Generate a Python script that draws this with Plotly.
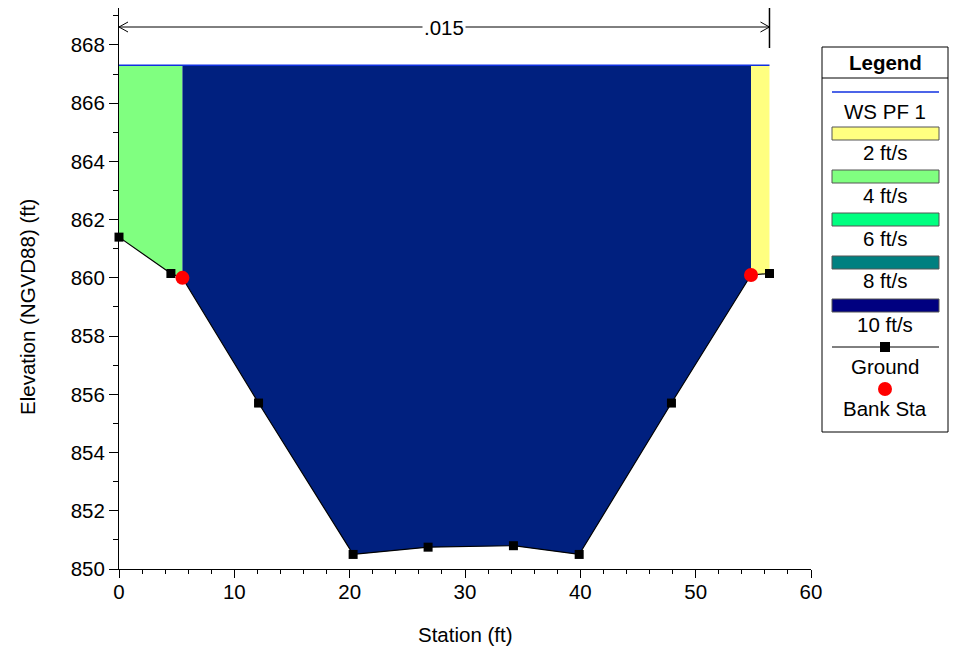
import numpy as np
import plotly.graph_objects as go

# ---------------- data ----------------
ground_sta = [0.0, 4.5, 5.5, 12.1, 20.3, 26.8, 34.2, 39.9, 47.9, 54.8, 56.4]
ground_elev = [861.4, 860.15, 860.0, 855.7, 850.5, 850.75, 850.8, 850.5, 855.7, 860.1, 860.15]
bank_sta = [5.5, 54.8]
bank_elev = [860.0, 860.1]
ws_elev = 867.3
n_value_label = ".015"
n_value_range = [0.0, 56.4]
# velocity zones: (start station, end station, legend label)
zone_start = [0.0, 5.5, 54.8]
zone_end = [5.5, 54.8, 56.4]
zone_label = ["4 ft/s", "10 ft/s", "2 ft/s"]
legend_vel_labels = ["2 ft/s", "4 ft/s", "6 ft/s", "8 ft/s", "10 ft/s"]
legend_vel_colors = ["#FFFF80", "#80FF80", "#00FF80", "#008080", "#000080"]
zone_colors = {"2 ft/s": "#FFFF80", "4 ft/s": "#80FF80", "10 ft/s": "#00207F"}

x_range = [0, 60]
y_range = [850, 869.27]

# page has an 8px body margin; layout below is in screen pixels
OFF = 8
W, H = 965 - OFF, 649 - OFF
PL, PR, PT, PB = 119, 811, 8, 569          # plot area on screen
ML, MT = PL - OFF, PT - OFF
MR, MB = W - (PR - OFF), H - (PB - OFF)
PW, PH = PR - PL, PB - PT

FONT = "Liberation Sans, Arial, sans-serif"
FS = 20.5

fig = go.Figure()

gs = np.array(ground_sta)
ge = np.array(ground_elev)

# velocity fill polygons
for s, e, lab in zip(zone_start, zone_end, zone_label):
    inner = gs[(gs > s) & (gs < e)]
    xs = np.concatenate([[s], inner, [e]])
    ys = np.interp(xs, gs, ge)
    px = list(xs) + [e, s, s]
    py = list(ys) + [ws_elev, ws_elev, ys[0]]
    fig.add_trace(go.Scatter(x=px, y=py, mode="lines", fill="toself",
                             fillcolor=zone_colors[lab], line=dict(width=0),
                             hoverinfo="skip", showlegend=False))

# water surface
fig.add_trace(go.Scatter(x=[gs[0], gs[-1]], y=[ws_elev, ws_elev], mode="lines",
                         line=dict(color="#1030E0", width=1.5), showlegend=False))

# ground
fig.add_trace(go.Scatter(x=ground_sta, y=ground_elev, mode="lines+markers",
                         line=dict(color="black", width=1.2),
                         marker=dict(symbol="square", size=9, color="black"),
                         cliponaxis=False, showlegend=False))
# bank stations
fig.add_trace(go.Scatter(x=bank_sta, y=bank_elev, mode="markers",
                         marker=dict(symbol="circle", size=14, color="#FF0000"),
                         cliponaxis=False, showlegend=False))

# ---- helpers: screen pixel -> data / paper ----
def py2y(p):
    return y_range[0] + (PB - p) / PH * (y_range[1] - y_range[0])

def pxp(p):
    return (p - PL) / PW

def pyp(p):
    return (PB - p) / PH

# ---- n-value dimension line ----
dim_y = py2y(27)
dx_unit = (x_range[1] - x_range[0]) / PW
dy_unit = (y_range[1] - y_range[0]) / PH
x0n, x1n = n_value_range
fig.add_shape(type="line", x0=x0n, x1=x1n, y0=dim_y, y1=dim_y,
              line=dict(color="black", width=1))
for tip, sgn in ((x0n, 1), (x1n, -1)):
    for d in (1, -1):
        fig.add_shape(type="line", x0=tip, y0=dim_y,
                      x1=tip + sgn * 9 * dx_unit, y1=dim_y + d * 5 * dy_unit,
                      line=dict(color="black", width=1))
fig.add_shape(type="line", xref="x", yref="paper", x0=x1n, x1=x1n,
              y0=pyp(48), y1=pyp(5), line=dict(color="black", width=1.5))
fig.add_annotation(x=(x0n + x1n) / 2, y=dim_y, text=n_value_label, showarrow=False,
                   bgcolor="white", font=dict(size=FS, color="black", family=FONT),
                   borderpad=1)

# ---- custom legend ----
def prect(x0, y0, x1, y1, **kw):
    fig.add_shape(type="rect", xref="paper", yref="paper",
                  x0=pxp(x0), x1=pxp(x1), y0=pyp(y1), y1=pyp(y0), **kw)

def pline(x0, y0, x1, y1, color="black", width=1):
    fig.add_shape(type="line", xref="paper", yref="paper",
                  x0=pxp(x0), x1=pxp(x1), y0=pyp(y0), y1=pyp(y1),
                  line=dict(color=color, width=width))

def ptext(xc, yc, txt, bold=False, angle=0):
    fig.add_annotation(xref="paper", yref="paper", x=pxp(xc), y=pyp(yc),
                       text=f"<b>{txt}</b>" if bold else txt, showarrow=False,
                       font=dict(size=FS, color="black", family=FONT),
                       xanchor="center", yanchor="middle", textangle=angle)

LX0, LX1, LY0, LY1 = 822, 948, 47, 432
cx = (LX0 + LX1) / 2
prect(LX0, LY0, LX1, LY1, line=dict(color="black", width=1), fillcolor="white", layer="below")
ptext(cx, 62, "Legend", bold=True)
pline(LX0, 78, LX1, 78)
pline(832, 92, 939, 92, color="#1030E0", width=1.5)
ptext(cx, 111, "WS PF 1")
for i, (lab, col) in enumerate(zip(legend_vel_labels, legend_vel_colors)):
    top = 127 + 43 * i
    prect(832, top, 939, top + 13, line=dict(color="#555555", width=1), fillcolor=col)
    ptext(cx, top + 25, lab)
pline(832, 347, 939, 347)
prect(880, 342, 890, 352, line=dict(color="black", width=0), fillcolor="black")
ptext(cx, 366, "Ground")
fig.add_shape(type="circle", xref="paper", yref="paper",
              x0=pxp(878), x1=pxp(892), y0=pyp(396), y1=pyp(382),
              fillcolor="#FF0000", line=dict(width=0))
ptext(cx, 408, "Bank Sta")

# axis titles
ptext((PL + PR) / 2, 634, "Station (ft)")
ptext(27, 307, "Elevation (NGVD88) (ft)", angle=-90)

fig.update_layout(
    width=W, height=H,
    margin=dict(l=ML, r=MR, t=MT, b=MB, pad=0),
    paper_bgcolor="white", plot_bgcolor="white",
    font=dict(family=FONT, size=FS, color="black"),
    showlegend=False,
    xaxis=dict(range=x_range, dtick=10, tick0=0, ticks="outside", ticklen=8,
               tickcolor="black", showline=True, linecolor="black", linewidth=1,
               showgrid=False, zeroline=False, automargin=False,
               ticklabelstandoff=-4,
               minor=dict(dtick=2, ticks="outside", ticklen=4, tickcolor="black"),
               tickfont=dict(size=FS)),
    yaxis=dict(range=y_range, dtick=2, tick0=850, ticks="outside", ticklen=9,
               tickcolor="black", showline=True, linecolor="black", linewidth=1,
               showgrid=False, zeroline=False, automargin=False,
               minor=dict(dtick=1, ticks="outside", ticklen=5, tickcolor="black"),
               tickfont=dict(size=FS)),
)

fig.write_html("out.html")
